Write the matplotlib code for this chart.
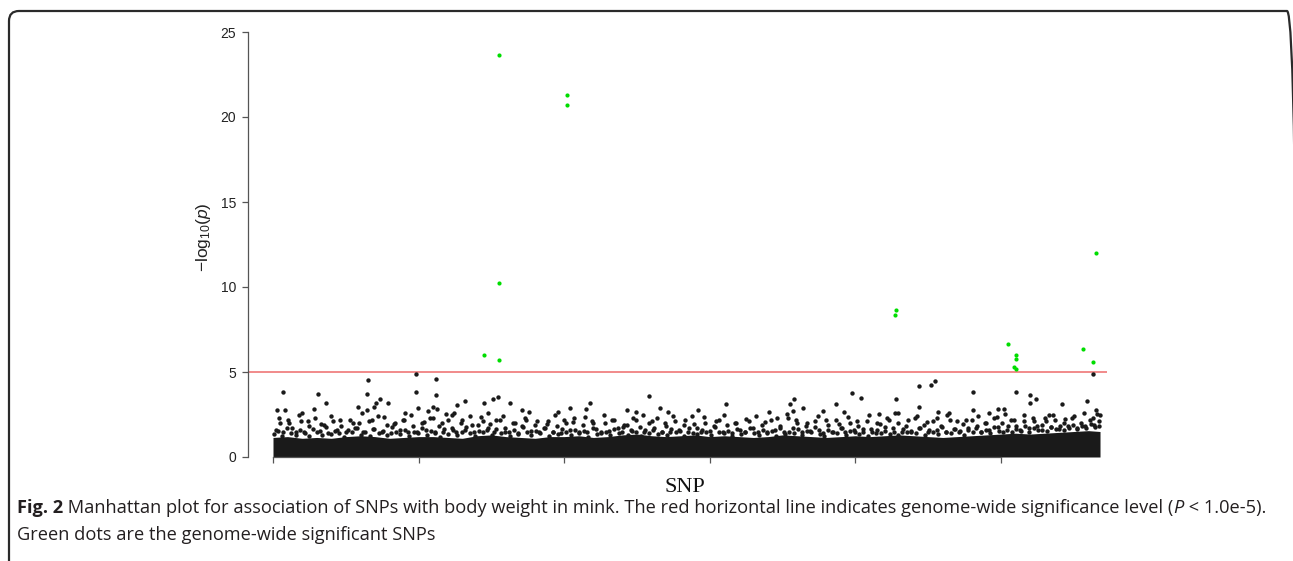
import matplotlib
matplotlib.use("Agg")
import matplotlib.pyplot as plt
from matplotlib.patches import FancyBboxPatch
from matplotlib.transforms import IdentityTransform

plt.rcParams["mathtext.fontset"] = "custom"
plt.rcParams["mathtext.rm"] = "Liberation Sans"
plt.rcParams["mathtext.it"] = "Liberation Sans:italic"

# ---------------- data (SNP index in thousands, -log10 p) ----------------
sig_x = [14.5, 15.5, 15.5, 15.5, 20.2, 20.2, 42.7, 42.8, 50.5, 51.0, 51.0,
         50.9, 51.0, 55.6, 56.3, 56.5]
sig_y = [5.98, 5.69, 10.25, 23.67, 21.28, 20.72, 8.35, 8.65, 6.67, 5.98, 5.75,
         5.31, 5.18, 6.33, 5.61, 12.02]

top_x = [0.7, 3.1, 3.65, 6.55, 6.46, 7.37, 7.92, 7.05, 6.96, 6.44, 5.87, 9.82,
         9.82, 9.93, 11.19, 11.19, 11.23, 10.96, 10.66, 12.65, 13.22, 14.5, 15.1,
         15.48, 16.3, 17.1, 17.6, 19.6, 20.4, 21.5, 21.8, 24.3, 0.27, 0.8, 2.8,
         2.0, 9.1, 11.9, 12.4,
         56.3, 51.0, 52.0, 52.4, 52.0, 55.9, 56.5, 56.6, 54.2, 48.1, 48.1, 49.2,
         49.8, 50.2, 44.4, 45.2, 45.5, 42.8, 42.7, 44.4, 39.8, 40.4, 41.6, 38.7,
         39.2, 37.8, 35.8, 35.5, 36.4, 35.7, 31.1, 25.8, 26.6, 27.1, 29.2, 24.9,
         34.1, 45.7, 46.4, 53.3]
top_y = [3.80, 3.71, 3.20, 4.55, 3.73, 3.39, 3.20, 3.20, 2.94, 2.75, 2.94, 4.88,
         3.80, 2.88, 4.57, 3.65, 2.84, 2.94, 2.71, 3.04, 3.31, 3.18, 3.39,
         3.53, 3.18, 2.78, 2.63, 2.65, 2.88, 2.82, 3.18, 2.75, 2.75, 2.75, 2.80,
         2.60, 2.60, 2.55, 2.60,
         4.88, 3.84, 3.67, 3.39, 3.20, 3.29, 2.76, 2.55, 3.10, 3.80, 2.76, 2.60,
         2.84, 2.80, 4.20, 4.22, 4.49, 3.39, 2.60, 2.96, 3.76, 3.47, 2.55, 3.10,
         2.67, 2.70, 3.39, 3.10, 2.90, 2.70, 3.14, 3.60, 2.88, 2.65, 2.78, 2.67,
         2.65, 2.65, 2.57, 2.47]

# upper sparse layer (about 1.9 - 2.6)
upr_x = [0.4, 1.1, 1.8, 2.4, 3.3, 4.0, 4.6, 5.5, 6.1, 6.8, 7.6, 8.3, 8.9, 9.5,
         10.4, 11.0, 11.6, 12.3, 13.0, 13.7, 14.3, 14.8, 15.3, 15.8, 16.6, 17.3,
         18.1, 18.8, 19.4, 20.0, 20.6, 21.4, 22.0, 22.7, 23.3, 24.1, 24.7, 25.4,
         26.0, 26.9, 27.5, 28.3, 28.9, 29.6, 30.4, 31.0, 31.7, 32.5, 33.2, 33.8,
         34.6, 35.3, 35.9, 36.7, 37.4, 38.0, 38.9, 39.5, 40.1, 40.9, 41.5, 42.2,
         42.9, 43.6, 44.2, 44.9, 45.6, 46.3, 47.0, 47.6, 48.4, 49.0, 49.7, 50.3,
         50.9, 51.6, 52.3, 53.0, 53.6, 54.4, 55.0, 55.7, 56.3, 56.8]
upr_y = [2.3, 2.0, 2.5, 2.1, 1.95, 2.4, 2.2, 2.0, 2.6, 2.15,
         2.35, 1.95, 2.2, 2.5, 2.05, 2.3, 2.0, 2.45, 2.15, 1.9,
         2.35, 2.6, 2.2, 2.4, 2.0, 2.3, 2.1, 1.95, 2.45, 2.2,
         2.05, 2.35, 2.0, 2.5, 2.15, 1.9, 2.3, 2.45, 2.1, 2.0,
         2.4, 2.2, 1.95, 2.35, 2.1, 2.5, 2.0, 2.25, 2.4, 2.05,
         2.3, 2.55, 2.15, 2.0, 2.4, 2.2, 1.95, 2.35, 2.1, 2.45,
         2.0, 2.3, 2.6, 2.15, 2.4, 2.05, 2.3, 2.5, 2.1, 2.2,
         2.4, 2.0, 2.35, 2.55, 2.2, 2.45, 2.1, 2.3, 2.5, 2.25,
         2.4, 2.6, 2.3, 2.5]

# middle speckle layer (about 1.4 - 2.4)
spk_x = [0.2, 0.5, 0.7, 1.0, 1.3, 1.6, 1.9, 2.2, 2.5, 2.9, 3.2, 3.5, 3.8, 4.1,
         4.4, 4.7, 5.0, 5.3, 5.6, 5.9, 6.2, 6.6, 6.9, 7.2, 7.5, 7.8, 8.1, 8.4,
         8.7, 9.0, 9.3, 9.6, 9.9, 10.2, 10.5, 10.8, 11.1, 11.4, 11.7, 12.0, 12.3,
         12.6, 12.9, 13.2, 13.5, 13.8, 14.1, 14.4, 14.7, 14.9, 15.2, 15.6, 15.9,
         16.2, 16.5, 16.8, 17.1, 17.4, 17.7, 18.0, 18.3, 18.6, 18.9, 19.2, 19.5,
         19.8, 20.1, 20.4, 20.7, 21.0, 21.3, 21.6, 21.9, 22.2, 22.5, 22.8, 23.1,
         23.4, 23.7, 24.0, 24.3, 24.6, 24.9, 25.2, 25.5, 25.8, 26.1, 26.4, 26.7,
         27.0, 27.3, 27.6, 27.9, 28.2, 28.5, 28.8, 29.1, 29.4, 29.7, 30.0, 30.3,
         30.6, 30.9, 31.2, 31.5, 31.8, 32.1, 32.4, 32.7, 33.0, 33.3, 33.6, 33.9,
         34.2, 34.5, 34.8, 35.1, 35.4, 35.7, 36.0, 36.3, 36.6, 36.9, 37.2, 37.5,
         37.8, 38.1, 38.4, 38.7, 39.0, 39.3, 39.6, 39.9, 40.2, 40.5, 40.8, 41.1,
         41.4, 41.7, 42.0, 42.3, 42.6, 42.9, 43.2, 43.5, 43.8, 44.1, 44.4, 44.7,
         45.0, 45.3, 45.6, 45.9, 46.2, 46.5, 46.8, 47.1, 47.4, 47.7, 48.0, 48.3,
         48.6, 48.9, 49.2, 49.5, 49.8, 50.1, 50.4, 50.7, 51.0, 51.3, 51.6, 51.9,
         52.2, 52.5, 52.8, 53.1, 53.4, 53.7, 54.0, 54.3, 54.6, 54.9, 55.2, 55.5,
         55.8, 56.1, 56.4, 56.7]
spk_y = [1.6, 2.0, 1.45, 2.2, 1.7, 1.5, 2.1, 1.4, 1.8, 2.3, 1.55, 1.9, 1.4, 2.1,
         1.6, 1.85, 1.45, 2.2, 1.7, 2.0, 1.5, 2.1, 1.65, 2.4, 1.5, 1.9, 1.4, 2.0,
         1.6, 2.2, 1.45, 1.8, 1.5, 2.0, 1.6, 2.3, 1.4, 1.85, 1.5, 2.2, 1.7,
         1.45, 2.0, 1.6, 2.4, 1.5, 1.9, 2.1, 1.6, 1.95, 1.45, 2.2, 1.7,
         1.5, 2.0, 1.4, 1.8, 2.2, 1.55, 1.9, 1.45, 1.7, 2.1, 1.5, 1.85,
         1.4, 2.0, 1.6, 2.3, 1.5, 1.9, 1.45, 2.1, 1.65, 1.4, 2.0, 1.55,
         2.2, 1.7, 1.45, 1.9, 1.6, 2.2, 1.75, 1.5, 2.0, 1.6, 2.3, 1.5,
         1.8, 1.45, 2.1, 1.6, 1.9, 1.5, 2.4, 1.7, 1.45, 2.0, 1.55, 1.8,
         2.2, 1.5, 1.9, 1.4, 2.0, 1.6, 1.45, 2.1, 1.7, 1.5, 1.9, 1.4,
         2.2, 1.6, 1.85, 1.5, 2.3, 1.7, 2.0, 1.45, 1.8, 1.55, 2.1, 1.6,
         1.4, 1.9, 1.5, 2.2, 1.7, 1.45, 2.0, 1.6, 1.85, 1.5, 2.1, 1.65,
         1.4, 1.95, 1.55, 2.2, 1.7, 2.0, 1.5, 1.8, 1.45, 2.3, 1.7, 1.9,
         1.5, 2.1, 1.6, 1.85, 1.45, 2.2, 1.65, 1.5, 1.95, 1.6, 2.2, 1.7,
         1.5, 2.0, 1.6, 2.3, 1.75, 2.0, 1.6, 2.2, 1.8, 1.6, 2.1, 1.7,
         2.3, 1.8, 1.6, 2.1, 1.75, 2.2, 1.65, 2.0, 1.8, 2.3, 1.7, 2.0,
         1.85, 2.2, 1.9, 2.1]

# lower dense speckle layer (about 1.2 - 1.9), on the ragged top of the band
low_x = [0.05, 0.35, 0.65, 0.95, 1.25, 1.55, 1.85, 2.15, 2.45, 2.75, 3.05, 3.35,
         3.65, 3.95, 4.25, 4.55, 4.85, 5.15, 5.45, 5.75, 6.05, 6.35, 6.65, 6.95,
         7.25, 7.55, 7.85, 8.15, 8.45, 8.75, 9.05, 9.35, 9.65, 9.95, 10.25, 10.55,
         10.85, 11.15, 11.45, 11.75, 12.05, 12.35, 12.65, 12.95, 13.25, 13.55,
         13.85, 14.15, 14.45, 14.75, 15.05, 15.35, 15.65, 15.95, 16.25, 16.55,
         16.85, 17.15, 17.45, 17.75, 18.05, 18.35, 18.65, 18.95, 19.25, 19.55,
         19.85, 20.15, 20.45, 20.75, 21.05, 21.35, 21.65, 21.95, 22.25, 22.55,
         22.85, 23.15, 23.45, 23.75, 24.05, 24.35, 24.65, 24.95, 25.25, 25.55,
         25.85, 26.15, 26.45, 26.75, 27.05, 27.35, 27.65, 27.95, 28.25, 28.55,
         28.85, 29.15, 29.45, 29.75, 30.05, 30.35, 30.65, 30.95, 31.25, 31.55,
         31.85, 32.15, 32.45, 32.75, 33.05, 33.35, 33.65, 33.95, 34.25, 34.55,
         34.85, 35.15, 35.45, 35.75, 36.05, 36.35, 36.65, 36.95, 37.25, 37.55,
         37.85, 38.15, 38.45, 38.75, 39.05, 39.35, 39.65, 39.95, 40.25, 40.55,
         40.85, 41.15, 41.45, 41.75, 42.05, 42.35, 42.65, 42.95, 43.25, 43.55,
         43.85, 44.15, 44.45, 44.75, 45.05, 45.35, 45.65, 45.95, 46.25, 46.55,
         46.85, 47.15, 47.45, 47.75, 48.05, 48.35, 48.65, 48.95, 49.25, 49.55,
         49.85, 50.15, 50.45, 50.75, 51.05, 51.35, 51.65, 51.95, 52.25, 52.55,
         52.85, 53.15, 53.45, 53.75, 54.05, 54.35, 54.65, 54.95, 55.25, 55.55,
         55.85, 56.15, 56.45, 56.75]
low_y = [1.35, 1.55, 1.25, 1.7, 1.4, 1.3, 1.6, 1.45, 1.25, 1.65,
         1.5, 1.3, 1.75, 1.35, 1.55, 1.4, 1.2, 1.6, 1.45, 1.7,
         1.3, 1.5, 1.25, 1.65, 1.4, 1.55, 1.3, 1.75, 1.45, 1.35,
         1.6, 1.25, 1.5, 1.4, 1.7, 1.3, 1.55, 1.45, 1.2, 1.65,
         1.35, 1.6, 1.3, 1.5, 1.75, 1.4, 1.25, 1.55, 1.45, 1.7,
         1.3, 1.65, 1.4, 1.5, 1.25, 1.6, 1.35, 1.75, 1.45, 1.3,
         1.55, 1.4, 1.7, 1.25, 1.5, 1.35, 1.65, 1.45, 1.3, 1.6,
         1.4, 1.55, 1.2, 1.7, 1.35, 1.5, 1.45, 1.3, 1.65, 1.4,
         1.75, 1.3, 1.55, 1.45, 1.25, 1.6, 1.4, 1.7, 1.35, 1.5,
         1.3, 1.65, 1.45, 1.55, 1.25, 1.7, 1.4, 1.35, 1.6, 1.5,
         1.3, 1.75, 1.45, 1.4, 1.55, 1.25, 1.65, 1.35, 1.5, 1.7,
         1.4, 1.3, 1.6, 1.45, 1.55, 1.25, 1.7, 1.35, 1.5, 1.4,
         1.65, 1.3, 1.55, 1.45, 1.75, 1.35, 1.25, 1.6, 1.5, 1.4,
         1.7, 1.3, 1.55, 1.45, 1.35, 1.65, 1.25, 1.5, 1.6, 1.4,
         1.75, 1.35, 1.5, 1.3, 1.65, 1.45, 1.55, 1.4, 1.7, 1.3,
         1.6, 1.5, 1.35, 1.75, 1.45, 1.4, 1.65, 1.55, 1.3, 1.7,
         1.5, 1.8, 1.45, 1.6, 1.4, 1.75, 1.55, 1.5, 1.85, 1.45,
         1.65, 1.55, 1.8, 1.5, 1.7, 1.6, 1.9, 1.55, 1.75, 1.65,
         1.85, 1.6, 1.7, 1.9, 1.65, 1.8, 1.7, 1.95, 1.75, 1.85]

# solid lower part of the cloud (top edge of the saturated band)
band_x = [0, 1, 2, 3, 4, 5, 6, 7, 8, 9, 10, 11, 12, 13, 14, 15, 16, 17, 18, 19,
          20, 21, 22, 23, 24, 25, 26, 27, 28, 29, 30, 31, 32, 33, 34, 35, 36, 37,
          38, 39, 40, 41, 42, 43, 44, 45, 46, 47, 48, 49, 50, 51, 52, 53, 54, 55,
          56, 56.8]
band_top = [1.15, 1.2, 1.1, 1.15, 1.1, 1.2, 1.25, 1.2, 1.1, 1.15, 1.2, 1.2, 1.15,
            1.1, 1.25, 1.3, 1.2, 1.15, 1.1, 1.2, 1.2, 1.25, 1.15, 1.2, 1.3, 1.35,
            1.25, 1.2, 1.25, 1.3, 1.2, 1.25, 1.2, 1.15, 1.2, 1.3, 1.25, 1.2, 1.15,
            1.2, 1.25, 1.2, 1.25, 1.3, 1.25, 1.2, 1.15, 1.2, 1.25, 1.3, 1.35, 1.4,
            1.35, 1.4, 1.45, 1.5, 1.55, 1.5]

x_ticks = [0, 10, 20, 30, 40, 50]
y_ticks = [0, 5, 10, 15, 20, 25]
threshold = 5.0

cap1_parts = [("Fig. 2", "bold", "normal"),
              (" Manhattan plot for association of SNPs with body weight in mink. "
               "The red horizontal line indicates genome-wide significance level (",
               "normal", "normal"),
              ("P", "normal", "italic"),
              (" < 1.0e-5).", "normal", "normal")]
cap2 = "Green dots are the genome-wide significant SNPs"

# ---------------- figure ----------------
W, H = 1293, 561
fig = plt.figure(figsize=(W / 100, H / 100), dpi=100)

frame = FancyBboxPatch((9, -60), 1288, H - 11 + 60,
                       boxstyle="round,pad=0,rounding_size=10",
                       transform=IdentityTransform(), fill=False,
                       edgecolor="#2a2a2a", linewidth=1.6)
fig.patches.append(frame)

ax = fig.add_axes([248 / W, (H - 457) / H, (1107 - 248) / W, (457 - 21.8) / H])
ax.set_xlim(-1.717, 57.28)
ax.set_ylim(0, 25.6)

dot = "#1a1a1a"
ms = 10
ax.fill_between(band_x, 0, band_top, color=dot, linewidth=0, zorder=2)
ax.scatter(low_x, low_y, s=ms, color=dot, linewidths=0, zorder=3)
ax.scatter(spk_x, spk_y, s=ms, color=dot, linewidths=0, zorder=3)
ax.scatter(upr_x, upr_y, s=ms, color=dot, linewidths=0, zorder=3)
ax.scatter(top_x, top_y, s=ms, color=dot, linewidths=0, zorder=3)
ax.axhline(threshold, color="#ee6b6b", linewidth=1.1, zorder=1)
ax.scatter(sig_x, sig_y, s=9, color="#00dd00", linewidths=0, zorder=4)

for s in ["top", "right"]:
    ax.spines[s].set_visible(False)
ax.spines["left"].set_bounds(0, 25)
ax.spines["bottom"].set_bounds(0, 50)
for s in ["left", "bottom"]:
    ax.spines[s].set_color("#555555")
    ax.spines[s].set_linewidth(0.9)
ax.set_xticks(x_ticks)
ax.set_xticklabels([])
ax.set_yticks(y_ticks)
ax.set_yticklabels([str(v) for v in y_ticks], fontsize=10,
                   family="Liberation Sans", color="#222222")
ax.tick_params(axis="both", length=4.5, width=0.9, color="#555555", pad=4)

ax.set_ylabel(r"$-\mathrm{log}_{10}(\mathit{p})$", fontsize=12.5, color="#222222")
ax.yaxis.set_label_coords(-0.041, 0.505)

fig.text(685 / W, 1 - 487 / H, "SNP", family="Liberation Serif", fontsize=16,
         ha="center", va="center", color="#111111")


def draw_caption(fs):
    made = []
    x = 17
    for txt, wt, st in cap1_parts:
        t = fig.text(x / W, 1 - 508 / H, txt, family="Open Sans", fontweight=wt,
                     style=st, fontsize=fs, va="center", color="#231f20")
        fig.canvas.draw()
        x = t.get_window_extent().x1
        made.append(t)
    t = fig.text(17 / W, 1 - 535 / H, cap2, family="Open Sans", fontsize=fs,
                 va="center", color="#231f20")
    made.append(t)
    return made, x


texts, xend = draw_caption(10.5)
fs_fit = 10.5 * (1275 - 17) / (xend - 17)
for t in texts:
    t.remove()
draw_caption(fs_fit)

fig.savefig("out.png", dpi=100)
